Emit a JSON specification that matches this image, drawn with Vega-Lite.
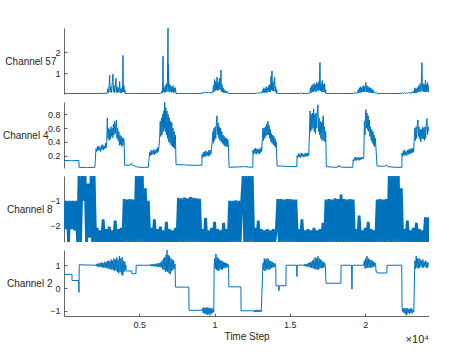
{
"$schema": "https://vega.github.io/schema/vega-lite/v6.json",
"padding": {"left": 2, "top": 28, "right": 0, "bottom": 0},
"background": "white",
"config": {
 "view": {"stroke": null},
 "font": "Liberation Sans",
 "concat": {"spacing": 8},
 "axis": {"domainColor": "#262626", "tickColor": "#262626", "labelColor": "#262626", "titleColor": "#262626", "labelFontSize": 9, "titleFontSize": 10, "titleFontWeight": "normal", "grid": false, "domainWidth": 0.7, "tickWidth": 0.7, "tickSize": -3, "labelPadding": 7, "labelFont": "Liberation Sans", "titleFont": "Liberation Sans"},
 "axisY": {"titleAngle": 0, "titleAlign": "right", "titleBaseline": "middle", "titleY": 33}
},
"title": {"text": "×10⁴", "orient": "bottom", "anchor": "end", "fontSize": 11, "fontWeight": "normal", "color": "#262626", "offset": -7, "font": "Liberation Sans"},
"datasets": {
"c57": [
{"t":0,"v":0.02},{"t":800,"v":0.025},{"t":1600,"v":0.02},{"t":2400,"v":0.03},{"t":2800,"v":0.03},
{"t":2860,"v":0.03},{"t":2900,"v":0.25},{"t":2950,"v":0.05},{"t":3000,"v":0.45},{"t":3035,"v":0.9},{"t":3060,"v":0.1},{"t":3100,"v":0.35},{"t":3150,"v":0.05},{"t":3200,"v":0.5},{"t":3254,"v":0.95},{"t":3280,"v":0.1},{"t":3320,"v":0.4},{"t":3360,"v":0.05},{"t":3400,"v":0.3},{"t":3453,"v":0.75},{"t":3480,"v":0.08},{"t":3520,"v":0.35},{"t":3560,"v":0.05},{"t":3600,"v":0.3},{"t":3650,"v":0.1},{"t":3698,"v":0.6},{"t":3730,"v":0.05},{"t":3770,"v":0.25},{"t":3810,"v":0.05},{"t":3850,"v":0.3},{"t":3890,"v":0.1},{"t":3918,"v":1.84},{"t":3945,"v":0.1},{"t":3980,"v":0.4},{"t":4010,"v":0.05},{"t":4040,"v":0.2},{"t":4060,"v":0.02},
{"t":4800,"v":0.02},{"t":5600,"v":0.025},{"t":6400,"v":0.02},
{"t":6450,"v":0.03},{"t":6500,"v":0.15},{"t":6540,"v":0.05},{"t":6574,"v":1.8},{"t":6600,"v":0.1},{"t":6640,"v":0.3},{"t":6680,"v":0.05},{"t":6720,"v":0.4},{"t":6760,"v":0.1},{"t":6800,"v":0.5},{"t":6840,"v":0.1},{"t":6870,"v":0.6},{"t":6906,"v":3.14},{"t":6925,"v":0.2},{"t":6945,"v":1.4},{"t":6970,"v":0.1},{"t":7000,"v":0.45},{"t":7040,"v":0.1},{"t":7080,"v":0.4},{"t":7120,"v":0.08},{"t":7160,"v":0.35},{"t":7200,"v":0.1},{"t":7240,"v":0.4},{"t":7280,"v":0.05},{"t":7320,"v":0.3},{"t":7360,"v":0.08},{"t":7400,"v":0.3},{"t":7440,"v":0.02},
{"t":8200,"v":0.02},{"t":9100,"v":0.025},
{"t":9160,"v":0.03},{"t":9180,"v":0.07},{"t":9300,"v":0.05},{"t":9400,"v":0.08},{"t":9500,"v":0.05},{"t":9600,"v":0.08},{"t":9700,"v":0.05},{"t":9820,"v":0.07},
{"t":9880,"v":0.05},{"t":9920,"v":0.4},{"t":9960,"v":0.1},{"t":10000,"v":0.7},{"t":10040,"v":0.15},{"t":10080,"v":0.6},{"t":10120,"v":0.2},{"t":10160,"v":0.8},{"t":10200,"v":0.15},{"t":10240,"v":0.55},{"t":10280,"v":0.2},{"t":10320,"v":0.75},{"t":10360,"v":0.2},{"t":10400,"v":0.6},{"t":10425,"v":1.15},{"t":10450,"v":0.1},{"t":10490,"v":0.45},{"t":10530,"v":0.1},{"t":10570,"v":0.3},{"t":10610,"v":0.05},{"t":10650,"v":0.2},{"t":10700,"v":0.05},{"t":10750,"v":0.15},{"t":10800,"v":0.04},{"t":10850,"v":0.12},{"t":10900,"v":0.03},{"t":10960,"v":0.02},
{"t":11800,"v":0.02},{"t":12500,"v":0.025},
{"t":12800,"v":0.03},{"t":12850,"v":0.06},{"t":12950,"v":0.04},{"t":13050,"v":0.06},{"t":13150,"v":0.05},{"t":13190,"v":0.2},{"t":13230,"v":0.05},{"t":13270,"v":0.3},{"t":13310,"v":0.05},{"t":13350,"v":0.25},{"t":13390,"v":0.08},{"t":13430,"v":0.35},{"t":13470,"v":0.05},{"t":13510,"v":0.3},{"t":13550,"v":0.1},{"t":13590,"v":0.4},{"t":13630,"v":0.1},{"t":13670,"v":0.45},{"t":13710,"v":0.1},{"t":13750,"v":0.85},{"t":13780,"v":0.2},{"t":13811,"v":1.1},{"t":13840,"v":0.15},{"t":13880,"v":0.6},{"t":13920,"v":0.15},{"t":13960,"v":0.55},{"t":13990,"v":0.8},{"t":14020,"v":0.1},{"t":14060,"v":0.35},{"t":14100,"v":0.05},{"t":14130,"v":0.2},{"t":14150,"v":0.02},
{"t":15000,"v":0.02},{"t":15700,"v":0.03},{"t":15740,"v":0.06},{"t":15800,"v":0.03},{"t":16300,"v":0.03},
{"t":16330,"v":0.05},{"t":16370,"v":0.3},{"t":16410,"v":0.05},{"t":16450,"v":0.4},{"t":16490,"v":0.1},{"t":16530,"v":0.45},{"t":16570,"v":0.1},{"t":16610,"v":0.5},{"t":16650,"v":0.15},{"t":16690,"v":0.45},{"t":16730,"v":0.1},{"t":16770,"v":0.55},{"t":16810,"v":0.15},{"t":16850,"v":0.5},{"t":16890,"v":0.15},{"t":16930,"v":0.6},{"t":16960,"v":0.2},{"t":16998,"v":1.5},{"t":17030,"v":0.15},{"t":17070,"v":0.5},{"t":17110,"v":0.1},{"t":17150,"v":0.65},{"t":17190,"v":0.1},{"t":17230,"v":0.45},{"t":17270,"v":0.1},{"t":17310,"v":0.5},{"t":17350,"v":0.05},{"t":17380,"v":0.2},{"t":17400,"v":0.02},
{"t":18300,"v":0.02},{"t":19200,"v":0.025},
{"t":19250,"v":0.03},{"t":19300,"v":0.08},{"t":19380,"v":0.04},{"t":19450,"v":0.06},{"t":19500,"v":0.04},{"t":19540,"v":0.2},{"t":19580,"v":0.05},{"t":19620,"v":0.3},{"t":19660,"v":0.05},{"t":19700,"v":0.35},{"t":19740,"v":0.08},{"t":19780,"v":0.3},{"t":19820,"v":0.1},{"t":19860,"v":0.4},{"t":19900,"v":0.1},{"t":19940,"v":0.35},{"t":19980,"v":0.1},{"t":20020,"v":0.45},{"t":20053,"v":0.55},{"t":20080,"v":0.1},{"t":20120,"v":0.4},{"t":20160,"v":0.1},{"t":20200,"v":0.35},{"t":20240,"v":0.08},{"t":20280,"v":0.3},{"t":20320,"v":0.05},{"t":20360,"v":0.3},{"t":20400,"v":0.05},{"t":20440,"v":0.25},{"t":20480,"v":0.05},{"t":20520,"v":0.2},{"t":20560,"v":0.04},{"t":20620,"v":0.1},{"t":20680,"v":0.04},{"t":20740,"v":0.08},{"t":20790,"v":0.02},
{"t":21600,"v":0.02},{"t":22400,"v":0.025},
{"t":22440,"v":0.03},{"t":22500,"v":0.06},{"t":22560,"v":0.03},{"t":22620,"v":0.07},{"t":22680,"v":0.04},{"t":22740,"v":0.06},{"t":22800,"v":0.03},{"t":22860,"v":0.08},{"t":22920,"v":0.04},{"t":22980,"v":0.07},{"t":23040,"v":0.03},{"t":23100,"v":0.1},{"t":23160,"v":0.04},{"t":23220,"v":0.15},{"t":23260,"v":0.04},{"t":23300,"v":0.3},{"t":23340,"v":0.05},{"t":23380,"v":0.25},{"t":23420,"v":0.05},{"t":23460,"v":0.3},{"t":23500,"v":0.08},{"t":23540,"v":0.4},{"t":23580,"v":0.1},{"t":23620,"v":0.35},{"t":23660,"v":0.5},{"t":23700,"v":0.1},{"t":23740,"v":0.6},{"t":23771,"v":1.5},{"t":23800,"v":0.15},{"t":23840,"v":0.5},{"t":23880,"v":0.1},{"t":23920,"v":0.45},{"t":23960,"v":0.1},{"t":24000,"v":0.65},{"t":24030,"v":0.1},{"t":24070,"v":0.45},{"t":24110,"v":0.1},{"t":24150,"v":0.55},{"t":24190,"v":0.1},{"t":24240,"v":0.4}
],
"c4": [
{"t":0,"v":0.13},{"t":500,"v":0.125},{"t":990,"v":0.13},{"t":1000,"v":0.03},{"t":1500,"v":0.025},{"t":2050,"v":0.03},
{"t":2125,"v":0.3},{"t":2170,"v":0.26},{"t":2215,"v":0.33},{"t":2260,"v":0.27},{"t":2305,"v":0.34},{"t":2350,"v":0.28},{"t":2395,"v":0.32},{"t":2440,"v":0.26},{"t":2485,"v":0.35},{"t":2530,"v":0.29},{"t":2575,"v":0.36},{"t":2620,"v":0.28},{"t":2665,"v":0.34},{"t":2710,"v":0.3},{"t":2755,"v":0.38},{"t":2800,"v":0.31},{"t":2840,"v":0.4},
{"t":2877,"v":0.75},{"t":2920,"v":0.45},{"t":2960,"v":0.6},{"t":3000,"v":0.42},{"t":3040,"v":0.58},{"t":3080,"v":0.44},{"t":3120,"v":0.62},{"t":3160,"v":0.48},{"t":3200,"v":0.6},{"t":3240,"v":0.46},{"t":3280,"v":0.66},{"t":3320,"v":0.5},{"t":3360,"v":0.7},{"t":3400,"v":0.52},{"t":3440,"v":0.64},{"t":3480,"v":0.72},{"t":3520,"v":0.45},{"t":3560,"v":0.6},{"t":3600,"v":0.42},{"t":3640,"v":0.55},{"t":3680,"v":0.35},{"t":3720,"v":0.5},{"t":3760,"v":0.36},{"t":3800,"v":0.48},{"t":3840,"v":0.33},{"t":3880,"v":0.46},{"t":3920,"v":0.35},{"t":3960,"v":0.45},{"t":3990,"v":0.4},
{"t":4030,"v":0.06},{"t":4400,"v":0.06},{"t":4480,"v":0.09},{"t":4550,"v":0.06},{"t":4700,"v":0.05},{"t":4800,"v":0.04},{"t":5000,"v":0.03},{"t":5600,"v":0.03},
{"t":5690,"v":0.25},{"t":5735,"v":0.2},{"t":5780,"v":0.28},{"t":5825,"v":0.21},{"t":5870,"v":0.27},{"t":5915,"v":0.22},{"t":5960,"v":0.29},{"t":6005,"v":0.21},{"t":6050,"v":0.28},{"t":6095,"v":0.23},{"t":6140,"v":0.3},{"t":6185,"v":0.24},{"t":6230,"v":0.32},{"t":6275,"v":0.26},{"t":6310,"v":0.34},
{"t":6350,"v":0.45},{"t":6390,"v":0.7},{"t":6430,"v":0.48},{"t":6470,"v":0.75},{"t":6510,"v":0.5},{"t":6550,"v":0.8},{"t":6590,"v":0.55},{"t":6630,"v":0.85},{"t":6660,"v":0.6},{"t":6686,"v":0.98},{"t":6720,"v":0.55},{"t":6760,"v":0.9},{"t":6800,"v":0.5},{"t":6840,"v":0.85},{"t":6880,"v":0.45},{"t":6920,"v":0.8},{"t":6960,"v":0.4},{"t":7000,"v":0.75},{"t":7040,"v":0.38},{"t":7080,"v":0.7},{"t":7120,"v":0.35},{"t":7160,"v":0.68},{"t":7200,"v":0.33},{"t":7240,"v":0.6},{"t":7280,"v":0.32},{"t":7320,"v":0.55},{"t":7360,"v":0.3},{"t":7400,"v":0.5},
{"t":7440,"v":0.07},{"t":8000,"v":0.065},{"t":8600,"v":0.06},{"t":9160,"v":0.06},
{"t":9170,"v":0.22},{"t":9215,"v":0.17},{"t":9260,"v":0.25},{"t":9305,"v":0.18},{"t":9350,"v":0.26},{"t":9395,"v":0.19},{"t":9440,"v":0.27},{"t":9485,"v":0.2},{"t":9530,"v":0.25},{"t":9575,"v":0.19},{"t":9620,"v":0.28},{"t":9665,"v":0.2},{"t":9710,"v":0.28},{"t":9755,"v":0.22},{"t":9800,"v":0.3},
{"t":9840,"v":0.4},{"t":9880,"v":0.55},{"t":9920,"v":0.38},{"t":9960,"v":0.6},{"t":10000,"v":0.42},{"t":10040,"v":0.62},{"t":10080,"v":0.45},{"t":10120,"v":0.68},{"t":10159,"v":0.78},{"t":10200,"v":0.5},{"t":10240,"v":0.68},{"t":10280,"v":0.45},{"t":10320,"v":0.62},{"t":10360,"v":0.42},{"t":10400,"v":0.6},{"t":10440,"v":0.4},{"t":10480,"v":0.55},{"t":10520,"v":0.38},{"t":10560,"v":0.5},{"t":10600,"v":0.36},{"t":10640,"v":0.48},{"t":10680,"v":0.34},{"t":10720,"v":0.46},{"t":10760,"v":0.33},{"t":10800,"v":0.45},{"t":10840,"v":0.33},{"t":10880,"v":0.44},{"t":10920,"v":0.35},
{"t":10960,"v":0.03},{"t":11500,"v":0.035},{"t":12000,"v":0.04},{"t":12540,"v":0.03},
{"t":12550,"v":0.28},{"t":12595,"v":0.22},{"t":12640,"v":0.3},{"t":12685,"v":0.23},{"t":12730,"v":0.31},{"t":12775,"v":0.22},{"t":12820,"v":0.3},{"t":12865,"v":0.24},{"t":12910,"v":0.29},{"t":12955,"v":0.22},{"t":13000,"v":0.3},{"t":13045,"v":0.24},{"t":13090,"v":0.32},{"t":13130,"v":0.26},
{"t":13170,"v":0.45},{"t":13210,"v":0.6},{"t":13250,"v":0.42},{"t":13290,"v":0.6},{"t":13330,"v":0.45},{"t":13370,"v":0.62},{"t":13410,"v":0.48},{"t":13450,"v":0.66},{"t":13490,"v":0.5},{"t":13546,"v":0.7},{"t":13580,"v":0.5},{"t":13620,"v":0.64},{"t":13660,"v":0.45},{"t":13700,"v":0.58},{"t":13740,"v":0.4},{"t":13780,"v":0.52},{"t":13820,"v":0.38},{"t":13860,"v":0.5},{"t":13900,"v":0.36},{"t":13940,"v":0.48},{"t":13980,"v":0.34},{"t":14020,"v":0.45},{"t":14060,"v":0.32},{"t":14090,"v":0.4},
{"t":14150,"v":0.05},{"t":14700,"v":0.045},{"t":15100,"v":0.04},{"t":15460,"v":0.04},
{"t":15480,"v":0.2},{"t":15525,"v":0.17},{"t":15570,"v":0.23},{"t":15615,"v":0.18},{"t":15660,"v":0.22},{"t":15705,"v":0.17},{"t":15750,"v":0.24},{"t":15795,"v":0.19},{"t":15840,"v":0.23},{"t":15885,"v":0.18},{"t":15930,"v":0.22},{"t":15975,"v":0.18},{"t":16020,"v":0.24},{"t":16065,"v":0.19},{"t":16110,"v":0.23},{"t":16155,"v":0.19},{"t":16200,"v":0.24},{"t":16250,"v":0.2},
{"t":16300,"v":0.5},{"t":16340,"v":0.85},{"t":16380,"v":0.55},{"t":16420,"v":0.8},{"t":16460,"v":0.58},{"t":16500,"v":0.82},{"t":16540,"v":0.6},{"t":16580,"v":0.88},{"t":16620,"v":0.55},{"t":16660,"v":0.8},{"t":16700,"v":0.52},{"t":16740,"v":0.82},{"t":16780,"v":0.6},{"t":16820,"v":0.85},{"t":16866,"v":0.94},{"t":16900,"v":0.55},{"t":16940,"v":0.75},{"t":16980,"v":0.5},{"t":17020,"v":0.7},{"t":17060,"v":0.45},{"t":17100,"v":0.68},{"t":17140,"v":0.42},{"t":17180,"v":0.72},{"t":17220,"v":0.78},{"t":17260,"v":0.42},{"t":17300,"v":0.62},{"t":17340,"v":0.4},{"t":17380,"v":0.55},
{"t":17420,"v":0.04},{"t":18000,"v":0.03},{"t":18200,"v":0.035},{"t":18260,"v":0.06},{"t":18320,"v":0.035},{"t":18800,"v":0.03},{"t":19180,"v":0.03},
{"t":19200,"v":0.14},{"t":19245,"v":0.12},{"t":19290,"v":0.17},{"t":19335,"v":0.13},{"t":19380,"v":0.18},{"t":19425,"v":0.13},{"t":19470,"v":0.17},{"t":19515,"v":0.14},{"t":19560,"v":0.18},{"t":19605,"v":0.13},{"t":19650,"v":0.17},{"t":19695,"v":0.14},{"t":19740,"v":0.18},{"t":19785,"v":0.15},{"t":19830,"v":0.17},{"t":19875,"v":0.15},{"t":19910,"v":0.18},
{"t":19950,"v":0.7},{"t":19990,"v":0.5},{"t":20020,"v":0.8},{"t":20053,"v":0.87},{"t":20080,"v":0.6},{"t":20120,"v":0.82},{"t":20160,"v":0.58},{"t":20200,"v":0.78},{"t":20240,"v":0.55},{"t":20280,"v":0.72},{"t":20320,"v":0.48},{"t":20360,"v":0.62},{"t":20400,"v":0.42},{"t":20440,"v":0.58},{"t":20480,"v":0.38},{"t":20520,"v":0.55},{"t":20560,"v":0.35},{"t":20600,"v":0.5},{"t":20640,"v":0.33},{"t":20680,"v":0.45},{"t":20720,"v":0.3},
{"t":20790,"v":0.05},{"t":21300,"v":0.045},{"t":21420,"v":0.065},{"t":21500,"v":0.04},{"t":22000,"v":0.03},{"t":22440,"v":0.03},
{"t":22450,"v":0.24},{"t":22495,"v":0.19},{"t":22540,"v":0.27},{"t":22585,"v":0.2},{"t":22630,"v":0.28},{"t":22675,"v":0.21},{"t":22720,"v":0.26},{"t":22765,"v":0.2},{"t":22810,"v":0.28},{"t":22855,"v":0.22},{"t":22900,"v":0.29},{"t":22945,"v":0.22},{"t":22990,"v":0.3},{"t":23035,"v":0.23},{"t":23080,"v":0.3},{"t":23125,"v":0.24},{"t":23170,"v":0.31},{"t":23220,"v":0.25},
{"t":23260,"v":0.45},{"t":23300,"v":0.6},{"t":23340,"v":0.42},{"t":23380,"v":0.62},{"t":23420,"v":0.45},{"t":23460,"v":0.65},{"t":23506,"v":0.72},{"t":23540,"v":0.48},{"t":23580,"v":0.62},{"t":23620,"v":0.44},{"t":23660,"v":0.58},{"t":23700,"v":0.4},{"t":23740,"v":0.58},{"t":23780,"v":0.45},{"t":23820,"v":0.62},{"t":23860,"v":0.44},{"t":23900,"v":0.6},{"t":23940,"v":0.42},{"t":23980,"v":0.62},{"t":24020,"v":0.45},{"t":24060,"v":0.66},{"t":24103,"v":0.74},{"t":24140,"v":0.5},{"t":24180,"v":0.62},{"t":24240,"v":0.55}
],
"c8": [
{"t":0,"v":-1.0},{"t":100,"v":-2.15},{"t":200,"v":-1.0},{"t":300,"v":-2.67},{"t":400,"v":-1.0},{"t":500,"v":-2.15},{"t":600,"v":-1.0},{"t":700,"v":-2.2},{"t":800,"v":-1.0},{"t":900,"v":-2.67},
{"t":1000,"v":0},{"t":1100,"v":-2.67},{"t":1200,"v":0},{"t":1300,"v":-1.0},{"t":1400,"v":0},{"t":1500,"v":-2.67},{"t":1600,"v":-0.3},{"t":1700,"v":-2.5},{"t":1800,"v":0},{"t":1900,"v":-2.67},{"t":2000,"v":0},{"t":2100,"v":-2.67},
{"t":2200,"v":-2.1},{"t":2300,"v":-2.67},{"t":2400,"v":-2.2},{"t":2500,"v":-2.67},{"t":2600,"v":-1.75},{"t":2700,"v":-2.67},{"t":2800,"v":-2.15},{"t":2900,"v":-2.67},{"t":3000,"v":-2.05},{"t":3100,"v":-2.67},{"t":3200,"v":-2.2},{"t":3300,"v":-2.67},{"t":3400,"v":-1.8},{"t":3500,"v":-2.67},{"t":3600,"v":-2.15},{"t":3700,"v":-2.67},{"t":3800,"v":-2.1},{"t":3900,"v":-2.67},
{"t":4000,"v":-0.93},{"t":4100,"v":-2.67},{"t":4200,"v":-0.95},{"t":4300,"v":-2.67},{"t":4400,"v":-0.93},{"t":4500,"v":-2.67},{"t":4600,"v":-0.95},{"t":4700,"v":-2.67},
{"t":4800,"v":0},{"t":4900,"v":-2.67},{"t":5000,"v":0},{"t":5100,"v":-2.67},{"t":5200,"v":0},{"t":5300,"v":-2.67},{"t":5400,"v":-0.5},{"t":5500,"v":-2.67},{"t":5600,"v":-1.0},
{"t":5700,"v":-2.67},{"t":5800,"v":-2.1},{"t":5900,"v":-2.67},{"t":6000,"v":-1.75},{"t":6100,"v":-2.67},{"t":6200,"v":-2.15},{"t":6300,"v":-2.67},{"t":6400,"v":-2.05},{"t":6500,"v":-2.67},{"t":6600,"v":-2.2},{"t":6700,"v":-2.67},{"t":6800,"v":-1.85},{"t":6900,"v":-2.67},{"t":7000,"v":-2.15},{"t":7100,"v":-2.67},{"t":7200,"v":-2.2},{"t":7300,"v":-2.67},{"t":7400,"v":-2.1},
{"t":7500,"v":-2.67},{"t":7600,"v":-0.88},{"t":7700,"v":-2.67},{"t":7800,"v":-0.9},{"t":7900,"v":-2.67},{"t":8000,"v":-0.87},{"t":8100,"v":-2.67},{"t":8200,"v":-0.9},{"t":8300,"v":-2.67},{"t":8400,"v":-0.85},{"t":8500,"v":-2.67},{"t":8600,"v":-0.88},{"t":8700,"v":-2.67},{"t":8800,"v":-0.9},{"t":8900,"v":-2.67},{"t":9000,"v":-0.92},
{"t":9100,"v":-2.67},{"t":9200,"v":-2.15},{"t":9300,"v":-2.67},{"t":9400,"v":-1.7},{"t":9500,"v":-2.67},{"t":9600,"v":-2.2},{"t":9700,"v":-2.67},{"t":9800,"v":-2.1},{"t":9900,"v":-2.67},{"t":10000,"v":-1.85},{"t":10100,"v":-2.67},{"t":10200,"v":-2.15},{"t":10300,"v":-2.67},{"t":10400,"v":-2.2},{"t":10500,"v":-2.67},{"t":10600,"v":-1.9},{"t":10700,"v":-2.67},{"t":10800,"v":-2.15},{"t":10900,"v":-2.67},
{"t":11000,"v":-1.0},{"t":11100,"v":-2.67},{"t":11200,"v":-1.0},{"t":11300,"v":-2.67},{"t":11400,"v":-0.98},{"t":11500,"v":-2.67},{"t":11600,"v":-1.0},{"t":11700,"v":-2.67},{"t":11800,"v":-1.0},
{"t":11900,"v":0},{"t":12000,"v":-2.67},{"t":12100,"v":0},{"t":12200,"v":-2.67},{"t":12300,"v":0},{"t":12400,"v":-2.67},{"t":12500,"v":0},
{"t":12600,"v":-2.67},{"t":12700,"v":-2.1},{"t":12800,"v":-2.67},{"t":12900,"v":-1.8},{"t":13000,"v":-2.67},{"t":13100,"v":-2.15},{"t":13200,"v":-2.67},{"t":13300,"v":-2.2},{"t":13400,"v":-2.67},{"t":13500,"v":-2.15},{"t":13600,"v":-2.67},{"t":13700,"v":-2.2},{"t":13800,"v":-2.67},{"t":13900,"v":-2.15},{"t":14000,"v":-2.67},{"t":14100,"v":-2.2},
{"t":14200,"v":-0.93},{"t":14300,"v":-2.67},{"t":14400,"v":-0.93},{"t":14500,"v":-2.67},{"t":14600,"v":-0.95},{"t":14700,"v":-2.67},{"t":14800,"v":-0.93},{"t":14900,"v":-2.67},{"t":15000,"v":-0.93},{"t":15100,"v":-2.67},{"t":15200,"v":-0.95},{"t":15300,"v":-2.67},{"t":15400,"v":-0.95},
{"t":15500,"v":-2.67},{"t":15600,"v":-2.15},{"t":15700,"v":-2.67},{"t":15800,"v":-1.75},{"t":15900,"v":-2.67},{"t":16000,"v":-2.2},{"t":16100,"v":-2.67},{"t":16200,"v":-2.15},{"t":16300,"v":-2.67},{"t":16400,"v":-2.2},{"t":16500,"v":-2.67},{"t":16600,"v":-2.1},{"t":16700,"v":-2.67},{"t":16800,"v":-2.2},{"t":16900,"v":-2.67},{"t":17000,"v":-2.15},{"t":17100,"v":-2.67},{"t":17200,"v":-1.9},{"t":17300,"v":-2.67},
{"t":17400,"v":-0.95},{"t":17500,"v":-2.67},{"t":17600,"v":-0.93},{"t":17700,"v":-2.67},{"t":17800,"v":-0.95},{"t":17900,"v":-2.67},{"t":18000,"v":-0.9},{"t":18100,"v":-2.67},{"t":18200,"v":-0.93},{"t":18300,"v":-2.67},{"t":18400,"v":-0.75},{"t":18500,"v":-2.67},{"t":18600,"v":-0.93},{"t":18700,"v":-2.67},{"t":18800,"v":-0.95},{"t":18900,"v":-2.67},{"t":19000,"v":-0.93},{"t":19100,"v":-2.67},{"t":19200,"v":-0.95},
{"t":19300,"v":-2.67},{"t":19400,"v":-2.15},{"t":19500,"v":-2.67},{"t":19600,"v":-1.6},{"t":19700,"v":-2.67},{"t":19800,"v":-2.2},{"t":19900,"v":-2.67},{"t":20000,"v":-2.1},{"t":20100,"v":-2.67},{"t":20200,"v":-1.85},{"t":20300,"v":-2.67},{"t":20400,"v":-2.15},{"t":20500,"v":-2.67},{"t":20600,"v":-2.2},{"t":20700,"v":-2.67},
{"t":20800,"v":-0.95},{"t":20900,"v":-2.67},{"t":21000,"v":-0.93},{"t":21100,"v":-2.67},{"t":21200,"v":-0.95},{"t":21300,"v":-2.67},{"t":21400,"v":-0.93},{"t":21500,"v":-2.67},
{"t":21600,"v":0},{"t":21700,"v":-2.67},{"t":21800,"v":0},{"t":21900,"v":-2.67},{"t":22000,"v":0},{"t":22100,"v":-2.67},{"t":22200,"v":0},{"t":22300,"v":-2.67},{"t":22400,"v":-0.5},
{"t":22500,"v":-2.67},{"t":22600,"v":-2.15},{"t":22700,"v":-2.67},{"t":22800,"v":-1.8},{"t":22900,"v":-2.67},{"t":23000,"v":-2.2},{"t":23100,"v":-2.67},{"t":23200,"v":-2.1},{"t":23300,"v":-2.67},{"t":23400,"v":-1.9},{"t":23500,"v":-2.67},{"t":23600,"v":-2.15},{"t":23700,"v":-2.67},{"t":23800,"v":-2.2},{"t":23900,"v":-2.67},
{"t":24000,"v":-1.67},{"t":24100,"v":-2.67},{"t":24200,"v":-1.67},{"t":24240,"v":-2.67}
],
"c2": [
{"t":0,"v":0.6},{"t":530,"v":0.6},{"t":531,"v":0.33},{"t":960,"v":0.33},{"t":996,"v":-0.19},{"t":1010,"v":1.02},{"t":2120,"v":1.0},
{"t":2150,"v":1.05},{"t":2195,"v":0.95},{"t":2240,"v":1.07},{"t":2285,"v":0.93},{"t":2330,"v":1.08},{"t":2375,"v":0.94},{"t":2420,"v":1.1},{"t":2465,"v":0.92},{"t":2510,"v":1.12},{"t":2555,"v":0.9},{"t":2600,"v":1.1},{"t":2645,"v":0.9},{"t":2690,"v":1.15},{"t":2735,"v":0.88},{"t":2780,"v":1.12},{"t":2825,"v":0.9},{"t":2870,"v":1.18},{"t":2915,"v":0.85},{"t":2960,"v":1.2},{"t":3005,"v":0.85},{"t":3050,"v":1.18},{"t":3095,"v":0.82},{"t":3140,"v":1.25},{"t":3185,"v":0.8},{"t":3230,"v":1.2},{"t":3275,"v":0.8},{"t":3320,"v":1.3},{"t":3365,"v":0.75},{"t":3410,"v":1.25},{"t":3455,"v":0.78},{"t":3500,"v":1.35},{"t":3545,"v":0.7},{"t":3590,"v":1.25},{"t":3635,"v":0.65},{"t":3680,"v":1.4},{"t":3725,"v":0.7},{"t":3770,"v":1.3},{"t":3815,"v":0.6},{"t":3860,"v":1.35},{"t":3905,"v":0.55},{"t":3950,"v":1.2},{"t":3995,"v":0.7},{"t":4040,"v":1.15},{"t":4080,"v":0.8},{"t":4110,"v":1.0},
{"t":4120,"v":0.75},{"t":4500,"v":0.75},{"t":4510,"v":0.63},{"t":4780,"v":0.63},{"t":4790,"v":1.0},{"t":5640,"v":1.0},
{"t":5700,"v":1.03},{"t":5745,"v":0.97},{"t":5790,"v":1.04},{"t":5835,"v":0.96},{"t":5880,"v":1.05},{"t":5925,"v":0.95},{"t":5970,"v":1.04},{"t":6015,"v":0.96},{"t":6060,"v":1.06},{"t":6105,"v":0.94},{"t":6150,"v":1.07},{"t":6195,"v":0.94},{"t":6240,"v":1.08},{"t":6285,"v":0.92},{"t":6330,"v":1.1},{"t":6375,"v":0.92},{"t":6420,"v":1.12},{"t":6465,"v":0.9},
{"t":6510,"v":1.2},{"t":6555,"v":0.82},{"t":6600,"v":1.3},{"t":6645,"v":0.8},{"t":6690,"v":1.35},{"t":6735,"v":0.7},{"t":6780,"v":1.45},{"t":6815,"v":0.75},{"t":6840,"v":1.67},{"t":6880,"v":0.7},{"t":6925,"v":1.45},{"t":6970,"v":0.65},{"t":7015,"v":1.4},{"t":7060,"v":0.6},{"t":7105,"v":1.3},{"t":7150,"v":0.75},{"t":7195,"v":1.25},{"t":7240,"v":0.8},{"t":7285,"v":1.2},{"t":7330,"v":0.85},{"t":7375,"v":1.05},
{"t":7400,"v":0.04},{"t":8290,"v":0.04},{"t":8300,"v":-0.98},{"t":9160,"v":-0.98},
{"t":9200,"v":-0.9},{"t":9245,"v":-1.1},{"t":9290,"v":-0.85},{"t":9335,"v":-1.12},{"t":9380,"v":-0.88},{"t":9425,"v":-1.15},{"t":9470,"v":-0.86},{"t":9515,"v":-1.18},{"t":9560,"v":-0.85},{"t":9605,"v":-1.15},{"t":9650,"v":-0.88},{"t":9695,"v":-1.2},{"t":9740,"v":-0.9},{"t":9785,"v":-1.12},{"t":9830,"v":-0.88},{"t":9875,"v":-1.1},{"t":9920,"v":-0.95},{"t":9950,"v":-1.05},
{"t":9970,"v":0.9},{"t":10010,"v":1.3},{"t":10050,"v":0.85},{"t":10093,"v":1.5},{"t":10130,"v":0.8},{"t":10170,"v":1.35},{"t":10210,"v":0.78},{"t":10250,"v":1.3},{"t":10290,"v":0.75},{"t":10330,"v":1.25},{"t":10370,"v":0.85},{"t":10410,"v":1.2},{"t":10450,"v":0.82},{"t":10490,"v":1.2},{"t":10530,"v":0.8},{"t":10570,"v":1.15},{"t":10610,"v":0.88},{"t":10650,"v":1.12},{"t":10690,"v":0.88},{"t":10730,"v":1.1},{"t":10770,"v":0.9},{"t":10810,"v":1.08},{"t":10850,"v":0.92},{"t":10890,"v":1.05},{"t":10930,"v":0.95},
{"t":10950,"v":0.05},{"t":11750,"v":0.05},{"t":11760,"v":-1.0},{"t":12600,"v":-1.0},{"t":12645,"v":-1.05},{"t":12690,"v":-0.97},{"t":12735,"v":-1.06},{"t":12780,"v":-0.96},{"t":12825,"v":-1.05},{"t":12870,"v":-0.97},{"t":12915,"v":-1.06},{"t":12960,"v":-0.96},{"t":13005,"v":-1.05},{"t":13050,"v":-0.97},{"t":13100,"v":-1.04},
{"t":13214,"v":1.1},{"t":13255,"v":0.8},{"t":13300,"v":1.3},{"t":13345,"v":0.75},{"t":13390,"v":1.25},{"t":13435,"v":0.8},{"t":13480,"v":1.3},{"t":13525,"v":0.85},{"t":13570,"v":1.28},{"t":13615,"v":0.8},{"t":13660,"v":1.2},{"t":13705,"v":0.85},{"t":13750,"v":1.18},{"t":13795,"v":0.88},{"t":13840,"v":1.15},{"t":13885,"v":0.9},{"t":13930,"v":1.1},{"t":13975,"v":0.92},{"t":14020,"v":1.08},{"t":14060,"v":1.0},
{"t":14080,"v":0.1},{"t":14250,"v":0.1},{"t":14276,"v":-0.12},{"t":14300,"v":0.1},{"t":14740,"v":0.1},{"t":14750,"v":1.0},{"t":15450,"v":1.0},{"t":15471,"v":0.5},{"t":15490,"v":1.0},
{"t":15600,"v":1.0},{"t":15800,"v":1.02},{"t":15900,"v":0.98},{"t":15960,"v":1.04},{"t":16005,"v":0.96},{"t":16050,"v":1.05},{"t":16095,"v":0.95},{"t":16140,"v":1.06},{"t":16185,"v":0.94},{"t":16230,"v":1.1},{"t":16275,"v":0.92},{"t":16320,"v":1.12},{"t":16365,"v":0.9},{"t":16410,"v":1.15},{"t":16455,"v":0.88},{"t":16500,"v":1.2},{"t":16545,"v":0.86},{"t":16590,"v":1.25},{"t":16635,"v":0.85},{"t":16680,"v":1.35},{"t":16725,"v":0.82},{"t":16770,"v":1.3},{"t":16815,"v":0.8},{"t":16860,"v":1.4},{"t":16905,"v":0.82},{"t":16950,"v":1.3},{"t":16995,"v":0.85},{"t":17040,"v":1.25},{"t":17085,"v":0.88},{"t":17130,"v":1.2},{"t":17175,"v":0.88},{"t":17220,"v":1.15},{"t":17265,"v":0.9},{"t":17310,"v":1.1},{"t":17360,"v":0.95},
{"t":17400,"v":0.21},{"t":18390,"v":0.21},{"t":18400,"v":1.0},{"t":19100,"v":1.0},{"t":19123,"v":-0.05},{"t":19150,"v":1.0},
{"t":19900,"v":1.0},{"t":19945,"v":1.2},{"t":19990,"v":0.85},{"t":20035,"v":1.3},{"t":20080,"v":0.88},{"t":20125,"v":1.4},{"t":20170,"v":0.9},{"t":20215,"v":1.3},{"t":20260,"v":0.88},{"t":20305,"v":1.25},{"t":20350,"v":0.9},{"t":20395,"v":1.22},{"t":20440,"v":0.9},{"t":20485,"v":1.2},{"t":20530,"v":0.92},{"t":20575,"v":1.15},{"t":20620,"v":0.95},{"t":20665,"v":1.1},{"t":20700,"v":1.0},
{"t":20720,"v":0.72},{"t":20780,"v":0.72},{"t":20790,"v":0.66},{"t":21440,"v":0.66},{"t":21450,"v":1.0},{"t":22430,"v":1.0},
{"t":22450,"v":-0.85},{"t":22495,"v":-1.05},{"t":22540,"v":-0.88},{"t":22585,"v":-1.1},{"t":22630,"v":-0.9},{"t":22675,"v":-1.15},{"t":22720,"v":-0.88},{"t":22765,"v":-1.2},{"t":22810,"v":-0.9},{"t":22855,"v":-1.1},{"t":22900,"v":-0.92},{"t":22945,"v":-1.15},{"t":22990,"v":-0.9},{"t":23035,"v":-1.1},{"t":23080,"v":-0.9},{"t":23125,"v":-1.12},{"t":23170,"v":-0.95},{"t":23230,"v":-1.05},
{"t":23300,"v":1.2},{"t":23345,"v":0.85},{"t":23390,"v":1.4},{"t":23435,"v":0.9},{"t":23480,"v":1.3},{"t":23525,"v":0.85},{"t":23570,"v":1.3},{"t":23615,"v":0.88},{"t":23660,"v":1.25},{"t":23705,"v":0.95},{"t":23750,"v":1.2},{"t":23795,"v":0.9},{"t":23840,"v":1.25},{"t":23885,"v":0.9},{"t":23930,"v":1.15},{"t":23975,"v":0.95},{"t":24020,"v":1.2},{"t":24065,"v":0.88},{"t":24110,"v":1.15},{"t":24155,"v":0.9},{"t":24200,"v":1.1},{"t":24240,"v":1.05}
]
},
"vconcat": [
{"data": {"name": "c57"}, "width": 365, "height": 66,
 "mark": {"type": "line", "strokeWidth": 1, "strokeJoin": "bevel", "color": "#0072BD", "clip": true},
 "encoding": {
  "x": {"field": "t", "type": "quantitative", "scale": {"domain": [0, 24240], "nice": false, "zero": false}, "axis": null},
  "y": {"field": "v", "type": "quantitative", "scale": {"domain": [0, 3.15], "nice": false, "zero": false}, "axis": {"title": "Channel 57", "values": [1, 2], "titleX": -8}}
 }},
{"data": {"name": "c4"}, "width": 365, "height": 66,
 "mark": {"type": "line", "strokeWidth": 1, "strokeJoin": "bevel", "color": "#0072BD", "clip": true},
 "encoding": {
  "x": {"field": "t", "type": "quantitative", "scale": {"domain": [0, 24240], "nice": false, "zero": false}, "axis": null},
  "y": {"field": "v", "type": "quantitative", "scale": {"domain": [0.02, 0.98], "nice": false, "zero": false}, "axis": {"title": "Channel 4", "values": [0.2, 0.4, 0.6, 0.8], "titleX": -16}}
 }},
{"data": {"name": "c8"}, "width": 365, "height": 66,
 "mark": {"type": "line", "strokeWidth": 2.8, "strokeJoin": "bevel", "color": "#0072BD", "clip": true},
 "encoding": {
  "x": {"field": "t", "type": "quantitative", "scale": {"domain": [0, 24240], "nice": false, "zero": false}, "axis": null},
  "y": {"field": "v", "type": "quantitative", "scale": {"domain": [-2.67, 0], "nice": false, "zero": false}, "axis": {"title": "Channel 8", "values": [-2, -1], "titleX": -12}}
 }},
{"data": {"name": "c2"}, "width": 365, "height": 66,
 "mark": {"type": "line", "strokeWidth": 1, "strokeJoin": "bevel", "color": "#0072BD", "clip": true},
 "encoding": {
  "x": {"field": "t", "type": "quantitative", "scale": {"domain": [0, 24240], "nice": false, "zero": false}, "axis": {"title": "Time Step", "values": [5000, 10000, 15000, 20000], "labelExpr": "datum.value / 10000", "titlePadding": 2}},
  "y": {"field": "v", "type": "quantitative", "scale": {"domain": [-1.23, 1.67], "nice": false, "zero": false}, "axis": {"title": "Channel 2", "values": [-1, 0, 1], "titleX": -12}}
 }}
]
}
